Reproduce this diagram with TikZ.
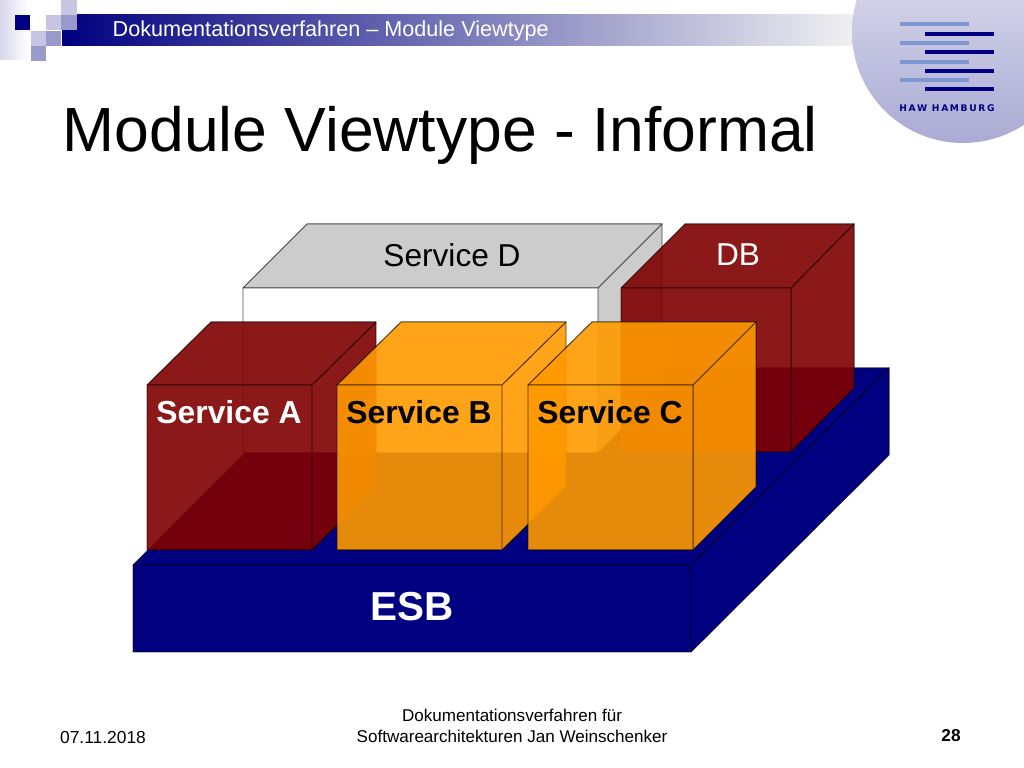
\documentclass[tikz,border=0pt]{standalone}
\usepackage{fontspec}
\setmainfont{Liberation Sans}
\newfontfamily\hawfont{DejaVu Sans}
\usetikzlibrary{positioning}
\definecolor{hawnavy}{HTML}{000080}
\definecolor{hawmid}{HTML}{9999CC}
\definecolor{hawlight}{HTML}{C6C6E2}
\definecolor{hawbar}{HTML}{7F97D0}
\definecolor{boxred}{HTML}{800000}
\definecolor{boxorange}{HTML}{FF9900}
\definecolor{boxgray}{HTML}{CCCCCC}
\tikzset{
  label text/.style={font=\fontsize{9}{9}\selectfont},
  label bold/.style={font=\fontsize{9.05}{9.05}\selectfont\bfseries},
  footer text/.style={font=\fontsize{4.85}{5.95}\selectfont,align=center},
  box line/.style={draw=black,line width=0.28pt,draw opacity=0.7},
}
\begin{document}
\begin{tikzpicture}[x=0.01cm,y=-0.01cm]
  \useasboundingbox (0,0) rectangle (1024,768);
  % header
  \fill[white] (0,0) rectangle (1024,768);
  \shade[left color=hawnavy,right color=black!5] (62,15) rectangle (860,46);
  \fill[white] (0,0) rectangle (61,70);
  \fill[white] (61,0) rectangle (77,15);
  \shade[left color=hawlight!70,right color=white] (0,0) rectangle (28,60);
  \fill[hawnavy] (15,15) rectangle (30,30);
  \fill[hawlight] (46,15) rectangle (61,30);
  \fill[hawmid] (61,15) rectangle (77,30);
  \fill[hawlight] (61,0) rectangle (77,15);
  \fill[hawlight] (31,31) rectangle (46,46);
  \fill[hawmid] (46,31) rectangle (61,46);
  \fill[hawmid] (31,46) rectangle (46,61);
  \node[anchor=west,inner sep=0pt,text=white,font=\fontsize{6.15}{6.5}\selectfont] (head) at (112,31) {Dokumentationsverfahren – Module Viewtype};
  % logo
  \begin{scope}
    \clip (963,32) circle (111);
    \shade[shading angle=40,top color=hawlight!40,bottom color=hawmid!85] (840,-90) rectangle (1090,150);
  \end{scope}
  \foreach \y in {24,43,62,80} \fill[hawbar] (900,\y-2) rectangle (969,\y+2);
  \foreach \y in {34,52,71,89} \fill[hawnavy] (925,\y-2) rectangle (994,\y+2);
  \node[text=hawnavy,inner sep=0pt,font=\hawfont\fontsize{2.6}{3}\selectfont\bfseries\addfontfeature{LetterSpace=18}] (haw) at (947,108) {HAW HAMBURG};
  % title
  \node[anchor=base west,inner sep=0pt,font=\fontsize{17.75}{19}\selectfont] (title) at (62,152) {Module Viewtype - Informal};
  % ESB
  \fill[hawnavy] (133,565) -- (331,368) -- (889,368) -- (889,455) -- (691,652) -- (133,652) -- cycle;
  \draw[box line] (133,565) -- (331,368) -- (889,368) -- (889,455) -- (691,652) -- (133,652) -- cycle;
  \draw[box line] (133,565) -- (691,565) -- (889,368) (691,565) -- (691,652);
  % Service D
  \fill[white] (243,288) rectangle (598,453);
  \fill[boxgray] (243,288) -- (307,224) -- (662,224) -- (662,389) -- (598,453) -- (598,288) -- cycle;
  \draw[box line] (243,288) -- (307,224) -- (662,224) -- (662,389) -- (598,453) -- (243,453) -- cycle;
  \draw[box line] (243,288) -- (598,288) -- (662,224) (598,288) -- (598,453);
  % DB
  \fill[boxred,fill opacity=0.9] (621,288) -- (685,224) -- (854,224) -- (854,388) -- (791,452) -- (621,452) -- cycle;
  \draw[box line] (621,288) -- (685,224) -- (854,224) -- (854,388) -- (791,452) -- (621,452) -- cycle;
  \draw[box line] (621,288) -- (791,288) -- (854,224) (791,288) -- (791,452);
  % Service A
  \fill[boxred,fill opacity=0.9] (147,385) -- (211,322) -- (376,322) -- (376,487) -- (312,550) -- (147,550) -- cycle;
  \draw[box line] (147,385) -- (211,322) -- (376,322) -- (376,487) -- (312,550) -- (147,550) -- cycle;
  \draw[box line] (147,385) -- (312,385) -- (376,322) (312,385) -- (312,550);
  % Service B
  \fill[boxorange,fill opacity=0.9] (337,385) -- (401,322) -- (566,322) -- (566,487) -- (502,550) -- (337,550) -- cycle;
  \draw[box line] (337,385) -- (401,322) -- (566,322) -- (566,487) -- (502,550) -- (337,550) -- cycle;
  \draw[box line] (337,385) -- (502,385) -- (566,322) (502,385) -- (502,550);
  % Service C
  \fill[boxorange,fill opacity=0.9] (528,385) -- (592,322) -- (756,322) -- (756,487) -- (693,550) -- (528,550) -- cycle;
  \draw[box line] (528,385) -- (592,322) -- (756,322) -- (756,487) -- (693,550) -- (528,550) -- cycle;
  \draw[box line] (528,385) -- (693,385) -- (756,322) (693,385) -- (693,550);
  % labels
  \node[label text] (serviced) at (452,255) {Service D};
  \node[label text,text=white] (db) at (738,255) {DB};
  \node[label bold,text=white] (servicea) at (229,412) {Service A};
  \node[label bold] (serviceb) at (419,412) {Service B};
  \node[label bold] (servicec) at (610,412) {Service C};
  \node[text=white,font=\fontsize{11.5}{12}\selectfont\bfseries] (esb) at (412,607) {ESB};
  % footer
  \node[font=\fontsize{4.95}{5.6}\selectfont] (date) at (103,738) {07.11.2018};
  \node[footer text] (source) at (512,726) {Dokumentationsverfahren für\\Softwarearchitekturen Jan Weinschenker};
  \node[font=\fontsize{4.9}{5.6}\selectfont\bfseries] (page) at (951,736) {28};
\end{tikzpicture}
\end{document}
